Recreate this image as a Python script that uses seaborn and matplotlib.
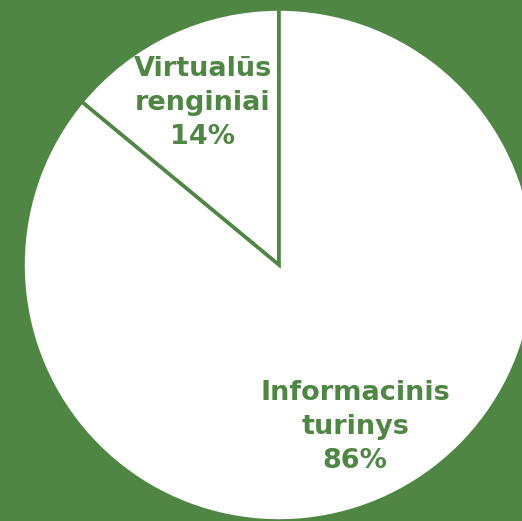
import matplotlib
matplotlib.use("Agg")
import matplotlib.pyplot as plt
import seaborn as sns

# Data
categories = ["Virtualūs\nrenginiai", "Informacinis\nturinys"]
shares = [14, 86]

GREEN = "#4F8644"

sns.set_style("white")
plt.rcParams['font.family'] = ['DejaVu Sans']

fig = plt.figure(figsize=(5.22, 5.21), dpi=100, facecolor=GREEN)
ax = fig.add_axes([0, 0, 1, 1])
ax.set_facecolor(GREEN)

labels = [f"{c}\n{v}%" for c, v in zip(categories, shares)]
wedges, texts = ax.pie(
    shares, labels=labels, startangle=90, counterclock=True,
    center=(279, 256), radius=256, labeldistance=0.7,
    colors=["white", "white"],
    wedgeprops=dict(edgecolor=GREEN, linewidth=2.6),
    textprops=dict(color=GREEN, fontsize=19.5, fontweight="bold"),
    frame=True,
)
for t in texts:
    t.set_ha("center")
    t.set_va("center")
    t.set_multialignment("center")
    t.set_linespacing(1.4)

ax.set_xlim(0, 522)
ax.set_ylim(0, 521)
ax.set_aspect("equal")
ax.axis("off")

fig.savefig("out.png", dpi=100, facecolor=GREEN)
